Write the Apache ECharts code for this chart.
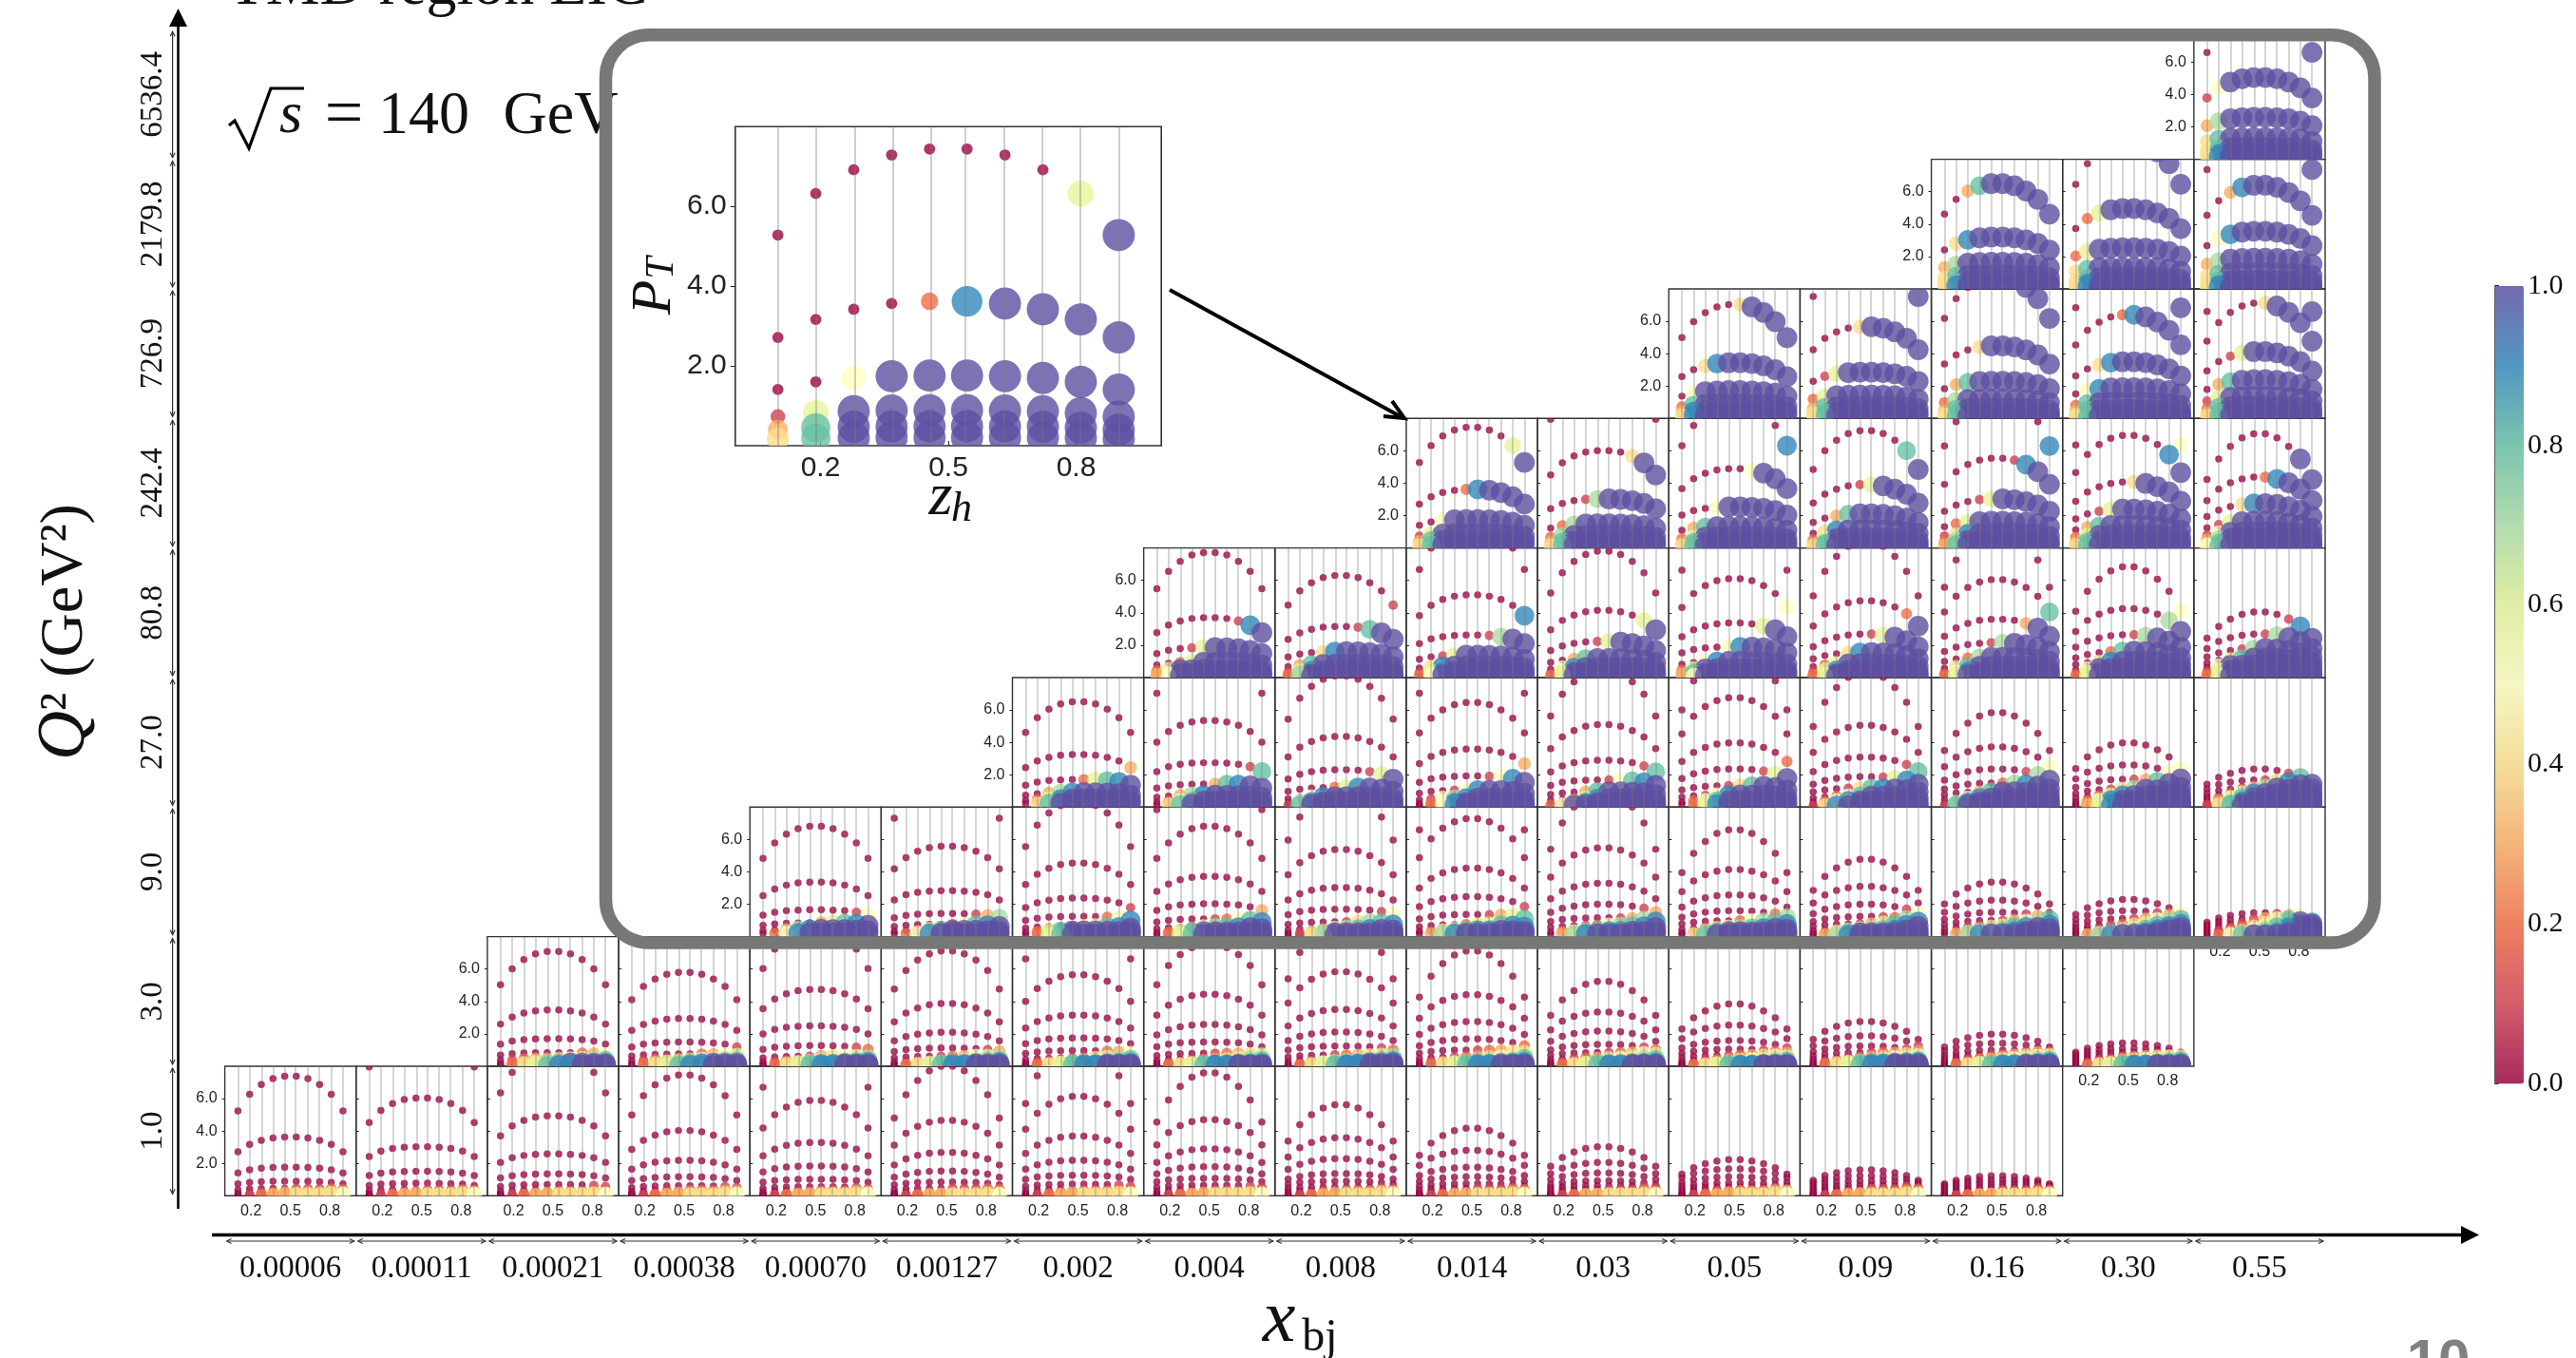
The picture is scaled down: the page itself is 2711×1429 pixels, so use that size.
<!DOCTYPE html>
<html><head><meta charset="utf-8">
<style>html,body{margin:0;padding:0;background:#fff;overflow:hidden}#c{width:2711px;height:1429px}</style>
<script src="https://cdn.jsdelivr.net/npm/echarts@6/dist/echarts.min.js"></script>
</head><body><div id="c"></div>
<script>
// Values. Each panel: [column, arc-shape row, arc apex PT values, fraction per zh column for each arc].
// Fractions are written one digit per zh column: 0..9 = 0.0..0.9, a = 1.0.
const X_LABELS=['0.00006','0.00011','0.00021','0.00038','0.00070','0.00127','0.002','0.004','0.008','0.014','0.03','0.05','0.09','0.16','0.30','0.55'];
const Q2_LABELS=['1.0','3.0','9.0','27.0','80.8','242.4','726.9','2179.8','6536.4'];
const ZH=[0.1,0.189,0.278,0.367,0.456,0.544,0.633,0.722,0.811,0.9];
// PT at each zh column relative to the arc apex, read from the arcs (left half, the arcs are symmetric).
const ARC_SHAPES=[[.60,.78,.89,.965,1],[.67,.83,.92,.975,1],[.71,.85,.93,.98,1],[.75,.875,.945,.985,1],[.80,.91,.965,.99,1],[.82,.92,.97,.99,1]];
const Z='0000000000',H='0000000011',M='0000011122',L='0001122233',V='0012333344',W='0123344445';
// Densely packed lowest arcs of the two bottom rows: [apex PT, fractions]. They pile up into the dark foot of each column.
const LOW_ARCS_ROW_0=[[.09,W],[.05,W]];
const LOW_ARCS_ROW_1=[[.07,'0246899aaa']];
const ROW_0=[
[0,2,[7.38,3.62,1.76,.9,.46,.2],[Z,Z,Z,Z,M,V]],
[1,2,[11.2,6.03,3.03,1.52,.78,.4,.18],[Z,Z,Z,Z,Z,M,V]],
[2,2,[8.96,4.93,2.58,1.35,.7,.36,.17],[Z,Z,Z,Z,H,M,V]],
[3,1,[7.45,4.03,2.19,1.17,.62,.33,.16],[Z,Z,Z,Z,H,L,V]],
[4,1,[10,5.89,3.29,1.84,1.02,.56,.3,.14],[Z,Z,Z,Z,Z,H,L,V]],
[5,0,[8,4.66,2.68,1.53,.85,.47,.25,.12],[Z,Z,Z,Z,Z,M,L,V]],
[6,0,[9.5,6.14,3.68,2.19,1.27,.72,.4,.2],[Z,Z,Z,Z,Z,H,M,V]],
[7,0,[7.59,4.7,2.9,1.8,1.08,.65,.37,.18],[Z,Z,Z,Z,Z,H,M,V]],
[8,0,[5.62,3.58,2.29,1.37,.9,.55,.32,.16],[Z,Z,Z,Z,Z,H,L,V]],
[9,0,[4.17,2.8,1.76,1.17,.75,.46,.26,.13],[Z,Z,Z,Z,Z,M,L,V]],
[10,0,[3.03,2.05,1.41,.93,.62,.4,.22,.11],[Z,Z,Z,Z,H,M,L,V]],
[11,0,[2.23,1.66,1.17,.8,.55,.34,.18,.09],[Z,Z,Z,Z,H,L,V,W]],
[12,0,[1.6,1.23,.93,.66,.45,.28,.14,.07],[Z,Z,Z,H,M,L,V,W]],
[13,0,[1.23,.98,.76,.56,.38,.23,.12,.06],[Z,Z,Z,H,M,L,V,W]]];
const ROW_1=[
[2,2,[7.08,3.47,1.7,.84,.45,.2],[Z,Z,Z,'0000000235','0123345678','024678aaaa']],
[3,2,[5.79,2.95,1.49,.76,.42,.2],[Z,Z,'0000000001','0000002356','0122345678','0246789aaa']],
[4,2,[8.5,4.74,2.49,1.27,.62,.33,.15],[Z,Z,Z,'0000000012','0000134567','0123456789','0246899aaa']],
[5,1,[7.12,3.87,2.09,1.13,.62,.33,.15],[Z,Z,Z,'0000000013','0000123567','0012345789','0246899aaa']],
[6,1,[9.9,5.64,3.15,1.74,.96,.52,.28,.14],[Z,Z,Z,Z,'0000000235','0000124678','0123456789','0246899aaa']],
[7,1,[7.5,4.44,2.58,1.5,.8,.45,.24,.12],[Z,Z,Z,Z,'0000012346','0001234678','0123456789','0246899aaa']],
[8,0,[9,5.83,3.5,2.11,1.25,.7,.38,.2,.1],[Z,Z,Z,Z,'0000000012','0000123467','0012345789','0135789aaa','0246899aaa']],
[9,0,[7.12,4.42,2.76,1.68,1,.58,.32,.16],[Z,Z,Z,'0000000002','0000012346','0001234568','0123456789','0246899aaa']],
[10,0,[5.24,3.35,2.17,1.35,.85,.5,.28,.14],[Z,Z,Z,'0000000012','0000012356','0012345678','0123456789','0246899aaa']],
[11,0,[3.84,2.54,1.59,1.05,.68,.4,.22,.11],[Z,Z,'0000000001','0000000123','0000123456','0012345678','0123456789','0246899aaa']],
[12,0,[2.76,1.88,1.25,.85,.55,.33,.18,.09],[Z,'0000000001','0000000013','0000012345','0001234567','0123456789','0246899aaa','0246899aaa']],
[13,0,[1.98,1.42,1,.7,.47,.28,.14],[Z,'0000000001','0000000134','0000123456','0012345678','0123456789','0246899aaa']],
[14,0,[1.43,1.1,.85,.62,.42,.25,.12],[Z,'0000000001','0000000124','0000123456','0012345678','0123456789','0246899aaa']]];
const ROW_2=[
[4,2,[6.81,3.37,1.66,.86,.45,.22],[Z,Z,'0000000015','000003689a','00379aaaaa','0259aaaaaa']],
[5,2,[10.3,5.58,2.84,1.43,.76,.4,.2],[Z,Z,Z,'0000000137','000002589a','00268aaaaa','0259aaaaaa']],
[6,1,[8.3,4.54,2.39,1.25,.65,.35,.15],[Z,Z,'0000000001','0000000259','000014689a','0268aaaaaa','0268aaaaaa']],
[7,1,[11.7,6.81,3.72,2.03,1.1,.6,.3,.15],[Z,Z,Z,'0000000003','0000012589','00025789aa','0268aaaaaa','0268aaaaaa']],
[8,1,[8.9,5.38,3.03,1.7,.92,.5,.25,.12],[Z,Z,Z,'0000000015','0000014789','00025789aa','0147aaaaaa','0147aaaaaa']],
[9,0,[11,7.28,4.23,2.47,1.37,.75,.4,.2],[Z,Z,Z,'0000000001','0000001368','0000246899','0146899aaa','0379aaaaaa']],
[10,0,[9,5.48,3.3,2,1.17,.7,.35,.18],[Z,Z,Z,'0000000013','0000001379','000125789a','0247899aaa','0379aaaaaa']],
[11,0,[6.6,4.15,2.58,1.6,.98,.55,.3,.15],[Z,Z,Z,'0000000027','0000025789','00246789aa','0258aaaaaa','048aaaaaaa']],
[12,0,[4.77,3.1,2,1.25,.8,.45,.25,.12],[Z,Z,'0000000015','0000001279','000013689a','00246789aa','0258aaaaaa','0379aaaaaa']],
[13,0,[3.37,2.25,1.5,1,.62,.35,.18],[Z,Z,'0000000138','0000013579','00124689aa','0135789aaa','0379aaaaaa']],
[14,0,[2.29,1.6,1.12,.75,.48,.28,.14],['0000000005','0000000138','0000013579','000124689a','00124689aa','0135789aaa','0379aaaaaa']],
[15,0,[1.47,1.12,.85,.62,.42,.25,.12],['0000001369','00001358aa','00012468aa','00124689aa','01235789aa','0135789aaa','0258aaaaaa']]];
const ROW_3=[
[6,2,[6.5,3.25,1.7,.9,.5,.25],[Z,'0000000003','000002689a','00379aaaaa','0269aaaaaa','048aaaaaaa']],
[7,2,[9.9,5.34,2.74,1.43,.74,.38,.18],[Z,Z,'0000000018','00000389aa','00379aaaaa','0258aaaaaa','048aaaaaaa']],
[8,1,[8.1,4.36,2.31,1.22,.64,.33,.16],[Z,Z,'000000016a','0000269aaa','0059aaaaaa','059aaaaaaa','18aaaaaaaa']],
[9,1,[10.5,6.46,3.58,1.92,1.05,.55,.28,.14],[Z,Z,'0000000003','000000159a','000159aaaa','01579aaaaa','0259aaaaaa','0259aaaaaa']],
[10,1,[8.4,5.09,2.9,1.68,.95,.52,.27,.13],[Z,Z,'0000000018','000001589a','00038aaaaa','00269aaaaa','0269aaaaaa','25aaaaaaaa']],
[11,0,[10,6.75,3.97,2.35,1.33,.75,.4,.2],[Z,Z,'0000000002','000000016a','0000148aaa','00159aaaaa','0258aaaaaa','0269aaaaaa']],
[12,0,[8.3,5.05,3.09,1.88,1.17,.68,.38,.2,.1],[Z,Z,'0000000018','000000169a','0001489aaa','00258aaaaa','0259aaaaaa','0358aaaaaa','149aaaaaaa']],
[13,0,[5.83,3.72,2.35,1.49,.95,.56,.3,.15],[Z,'0000000005','000000017a','00000279aa','00038aaaaa','0059aaaaaa','059aaaaaaa','18aaaaaaaa']],
[14,0,[3.97,2.6,1.72,1.13,.72,.42,.22,.11],['0000000005','000000005a','00000138aa','000147aaaa','00269aaaaa','0259aaaaaa','0369aaaaaa','0369aaaaaa']],
[15,0,[2.35,1.68,1.2,.85,.58,.36,.2,.1],['000000018a','00000149aa','000137aaaa','00269aaaaa','0258aaaaaa','0369aaaaaa','148aaaaaaa','148aaaaaaa']]];
const ROW_4=[
[7,2,[7.72,3.7,1.85,.95,.5,.25,.12],[Z,'000000019a','00016aaaaa','0026aaaaaa','26aaaaaaaa','35aaaaaaaa','35aaaaaaaa']],
[8,2,[6.3,3.15,1.6,.82,.43,.22,.11],['0000000001','00000018aa','00049aaaaa','038aaaaaaa','169aaaaaaa','27aaaaaaaa','27aaaaaaaa']],
[9,2,[9.4,5.1,2.62,1.38,.72,.37,.19],[Z,'0000000009','00000017aa','0016aaaaaa','049aaaaaaa','169aaaaaaa','25aaaaaaaa']],
[10,1,[7.8,4.15,2.23,1.18,.62,.32,.16],[Z,'000000006a','000016aaaa','0038aaaaaa','059aaaaaaa','16aaaaaaaa','26aaaaaaaa']],
[11,1,[9.9,6.1,3.37,1.9,1,.55,.28,.14],[Z,'0000000005','00000006aa','000059aaaa','0059aaaaaa','26aaaaaaaa','38aaaaaaaa','35aaaaaaaa']],
[12,0,[8.4,4.74,2.68,1.55,.85,.46,.23,.12],[Z,'000000002a','0000016aaa','00049aaaaa','026aaaaaaa','169aaaaaaa','26aaaaaaaa','26aaaaaaaa']],
[13,0,[9.3,6.05,3.6,2.15,1.25,.7,.36,.18],[Z,'0000000008','00000003aa','000017aaaa','0027aaaaaa','048aaaaaaa','159aaaaaaa','26aaaaaaaa']],
[14,0,[6.83,4.25,2.64,1.63,1,.58,.3,.15],['0000000005','000000007a','0000017aaa','00028aaaaa','0049aaaaaa','05aaaaaaaa','16aaaaaaaa','26aaaaaaaa']],
[15,0,[4.05,2.68,1.8,1.2,.78,.46,.24,.12],['000000019a','0000017aaa','00017aaaaa','0048aaaaaa','05aaaaaaaa','16aaaaaaaa','26aaaaaaaa','26aaaaaaaa']]];
const ROW_5=[
[9,2,[7.44,3.62,1.76,.89,.49,.21],['000000006a','000029aaaa','005aaaaaaa','16aaaaaaaa','38aaaaaaaa','48aaaaaaaa']],
[10,2,[11.2,6.01,3.03,1.5,.8,.42,.2],[Z,'00000004aa','00017aaaaa','027aaaaaaa','27aaaaaaaa','38aaaaaaaa','48aaaaaaaa']],
[11,2,[8.9,4.89,2.54,1.33,.7,.37,.18],['0000000009','0000005aaa','0005aaaaaa','038aaaaaaa','26aaaaaaaa','38aaaaaaaa','48aaaaaaaa']],
[12,1,[7.24,3.91,2.11,1.13,.6,.32,.16],['000000008a','000016aaaa','0038aaaaaa','049aaaaaaa','26aaaaaaaa','38aaaaaaaa','48aaaaaaaa']],
[13,1,[9.4,5.54,3.03,1.65,.9,.48,.24],['0000000009','00000019aa','00016aaaaa','026aaaaaaa','149aaaaaaa','27aaaaaaaa','38aaaaaaaa']],
[14,0,[10.6,6.95,4.07,2.4,1.4,.8,.42,.2],['0000000005','000000009a','000004aaaa','0016aaaaaa','038aaaaaaa','26aaaaaaaa','38aaaaaaaa','48aaaaaaaa']],
[15,0,[7.05,4.38,2.75,1.65,1,.6,.32,.16],['00000000aa','0000029aaa','00049aaaaa','016aaaaaaa','15aaaaaaaa','37aaaaaaaa','48aaaaaaaa','58aaaaaaaa']]];
const ROW_6=[
[11,2,[7.03,3.44,1.72,.89,.48,.22],['000004aaaa','0049aaaaaa','05aaaaaaaa','28aaaaaaaa','39aaaaaaaa','49aaaaaaaa']],
[12,2,[10.6,5.66,2.86,1.45,.75,.4,.2],['000000000a','00004aaaaa','016aaaaaaa','26aaaaaaaa','38aaaaaaaa','48aaaaaaaa','48aaaaaaaa']],
[13,2,[8.7,4.48,2.3,1.2,.62,.32,.16],['0000005aaa','0004aaaaaa','038aaaaaaa','27aaaaaaaa','38aaaaaaaa','48aaaaaaaa','48aaaaaaaa']],
[14,1,[10.2,6.4,3.5,1.9,1,.55,.28,.14],['000000000a','000029aaaa','0049aaaaaa','059aaaaaaa','28aaaaaaaa','38aaaaaaaa','48aaaaaaaa','48aaaaaaaa']],
[15,0,[11,7.12,4.13,2.4,1.35,.75,.4,.2],['000000000a','000004aaaa','0016aaaaaa','038aaaaaaa','16aaaaaaaa','28aaaaaaaa','38aaaaaaaa','48aaaaaaaa']]];
const ROW_7=[
[13,2,[6.5,3.2,1.65,.85,.45,.22],['0038aaaaaa','049aaaaaaa','37aaaaaaaa','48aaaaaaaa','48aaaaaaaa','49aaaaaaaa']],
[14,2,[9.1,4.96,2.54,1.33,.7,.35,.17],['0000000aaa','026aaaaaaa','26aaaaaaaa','48aaaaaaaa','48aaaaaaaa','49aaaaaaaa','49aaaaaaaa']],
[15,1,[11,6.4,3.56,1.9,1,.52,.26,.13],['000000000a','0039aaaaaa','059aaaaaaa','37aaaaaaaa','48aaaaaaaa','48aaaaaaaa','49aaaaaaaa','49aaaaaaaa']]];
const ROW_8=[
[15,2,[9.3,5.05,2.6,1.35,.72,.36,.18],['000000000a','15aaaaaaaa','37aaaaaaaa','48aaaaaaaa','48aaaaaaaa','49aaaaaaaa','49aaaaaaaa']]];
const ROWS=[ROW_0,ROW_1,ROW_2,ROW_3,ROW_4,ROW_5,ROW_6,ROW_7,ROW_8];
const LOW_ARCS=[LOW_ARCS_ROW_0,LOW_ARCS_ROW_1];
const CBAR_COLORS=['#9e0142','#d53e4f','#f46d43','#fdae61','#fee08b','#ffffbf','#e6f598','#abdda4','#66c2a5','#3288bd','#5e4fa2'];

const rgba=h=>`rgba(${parseInt(h.slice(1,3),16)},${parseInt(h.slice(3,5),16)},${parseInt(h.slice(5,7),16)},0.8)`;
const points=(p,r)=>{const out=[];
  const apexes=p[2].slice(),fr=p[3].slice();
  (LOW_ARCS[r]||[]).forEach(a=>{if(a[0]<apexes[apexes.length-1]){apexes.push(a[0]);fr.push(a[1]);}});
  apexes.forEach((apex,k)=>{const sh=ARC_SHAPES[Math.min(p[1]+k,ARC_SHAPES.length-1)];
  ZH.forEach((z,i)=>{const ch=fr[k][i];out.push([z,apex*sh[Math.min(i,9-i)],ch==='a'?1:(+ch)/10]);});});return out;};

const X0=236.6,CW=138.15,YB=1258.3,RH=136.33;
const SERIF='Liberation Serif',SANS='Liberation Sans';
const grids=[],xAxes=[],yAxes=[],series=[];
function addPanel(p,r,box,o){
  const gi=grids.length;
  grids.push(Object.assign({show:true,borderColor:'#333',borderWidth:o.bw,backgroundColor:'transparent',containLabel:false},box));
  xAxes.push({type:'value',gridIndex:gi,min:0,max:1,splitLine:{show:false},axisLine:{show:false},
    axisTick:{show:true,inside:true,length:o.tick,customValues:[.2,.5,.8],lineStyle:{color:'#222',width:1}},
    axisLabel:{show:o.xl,customValues:[.2,.5,.8],formatter:v=>v.toFixed(1),fontFamily:SANS,fontSize:o.fs,color:'#222',margin:o.m}});
  yAxes.push({type:'value',gridIndex:gi,min:0,max:8,splitLine:{show:false},axisLine:{show:false},
    axisTick:{show:true,inside:!o.yl,length:o.tick,customValues:[2,4,6],lineStyle:{color:'#222',width:1}},
    axisLabel:{show:o.yl,customValues:[2,4,6],formatter:v=>v.toFixed(1),fontFamily:SANS,fontSize:o.fs,color:'#222',margin:o.m}});
  series.push({type:'custom',coordinateSystem:'cartesian2d',xAxisIndex:gi,yAxisIndex:gi,data:points(p,r),clip:true,animation:false,silent:true,progressive:0,
    encode:{x:0,y:1},
    renderItem:(params,api)=>{const c=api.coord([api.value(0),api.value(1)]);
      return {type:'circle',shape:{cx:c[0],cy:c[1],r:Math.sqrt(o.s0+o.s1*api.value(2))/2},style:{fill:api.visual('color')}};},
    markLine:{silent:true,animation:false,symbol:['none','none'],label:{show:false},
      lineStyle:{type:'solid',color:'rgba(120,120,120,0.36)',width:o.lw},data:ZH.map(z=>({xAxis:z}))}});
}
ROWS.forEach((row,r)=>row.forEach((p,idx)=>{
  const c=p[0];
  const below=r===0||!ROWS[r-1].some(q=>q[0]===c);
  addPanel(p,r,{left:X0+CW*c,top:YB-RH*(r+1),width:CW,height:RH},
    {bw:1.4,tick:3,xl:below,yl:idx===0,fs:16,m:8,s0:56,s1:420,lw:1.7});
}));
// the enlarged panel repeats the 0.014 / 242.4 panel
addPanel(ROW_5[0],5,{left:773.8,top:133.3,width:448.4,height:335.7},{bw:1.6,tick:5,xl:true,yl:true,fs:30,m:9,s0:140,s1:1010,lw:2});
const scatterIdx=series.map((_,i)=>i);

// colour-bar axis
const cb=grids.length;
grids.push({left:2626,top:300.7,width:30,height:839.8,show:false});
xAxes.push({type:'value',gridIndex:cb,min:0,max:1,show:false});
yAxes.push({type:'value',gridIndex:cb,position:'right',min:0,max:1,interval:.2,splitLine:{show:false},
  axisLine:{show:true,lineStyle:{color:'#222',width:1.5}},axisTick:{show:true,length:4,lineStyle:{color:'#222'}},
  axisLabel:{fontFamily:SERIF,fontSize:30,color:'#111',margin:4,formatter:v=>v.toFixed(1)}});

// graphics
const G=[];
const txt=(t,x,y,fs,extra)=>G.push(Object.assign({type:'text',x,y,z:50,silent:true,style:Object.assign({text:t,fontFamily:SERIF,fontSize:fs,fill:'#111',textAlign:'center',textVerticalAlign:'middle'},extra&&extra.style||{})},extra&&extra.el||{}));
const seg=(x1,y1,x2,y2,w,col)=>G.push({type:'line',z:50,silent:true,shape:{x1,y1,x2,y2},style:{stroke:col||'#000',lineWidth:w}});
const poly=(pts,col)=>G.push({type:'polygon',z:50,silent:true,shape:{points:pts},style:{fill:col||'#000'}});
const pl=(pts,w,col)=>G.push({type:'polyline',z:50,silent:true,shape:{points:pts},style:{stroke:col||'#000',lineWidth:w,fill:'none'}});
// main axes
seg(187.5,24,187.5,1272,2.6); poly([[187.5,9],[178,28],[197,28]]);
seg(223,1299.5,2592,1299.5,3.4); poly([[2609,1299.5],[2590,1290],[2590,1309]]);
// per-bin double arrows and labels
X_LABELS.forEach((t,c)=>{const a=X0+CW*c+2,b=X0+CW*(c+1)-2,y=1306;seg(a,y,b,y,1.2,'#333');
  pl([[a+5,y-2.5],[a,y],[a+5,y+2.5]],1.2,'#333');pl([[b-5,y-2.5],[b,y],[b-5,y+2.5]],1.2,'#333');
  txt(t,X0+CW*(c+.5),1335,33);});
Q2_LABELS.forEach((t,r)=>{const b=YB-RH*r-2,a=YB-RH*(r+1)+2,x=181.6;seg(x,a,x,b,1.2,'#333');
  pl([[x-2.5,a+5],[x,a],[x+2.5,a+5]],1.2,'#333');pl([[x-2.5,b-5],[x,b],[x+2.5,b-5]],1.2,'#333');
  txt(t,161,(a+b)/2,33,{el:{rotation:Math.PI/2}});});
// titles
G.push({type:'text',x:69,y:665,z:50,rotation:Math.PI/2,silent:true,style:{text:'{i|Q}² (GeV²)',rich:{i:{fontFamily:SERIF,fontStyle:'italic',fontSize:72,fill:'#111'}},fontFamily:SERIF,fontSize:64,fill:'#111',textAlign:'center',textVerticalAlign:'middle'}});
txt('x',1346,1390,78,{style:{fontStyle:'italic'}});
txt('bj',1389,1408,48);
txt('TMD region EIC',461,-13,64);
// sqrt(s) = 140 GeV
pl([[241,132],[247,127],[262,156],[285,93],[320,93]],3.2);
txt('s',306,123,62,{style:{fontStyle:'italic'}});
txt('=',362,123,72);
txt('140',446,123,64);
txt('GeV',590,123,64);
// enlarged-panel labels
txt('P',689,313,60,{style:{fontStyle:'italic'},el:{rotation:Math.PI/2}});
txt('T',697,282,42,{style:{fontStyle:'italic'},el:{rotation:Math.PI/2}});
txt('z',990,524,64,{style:{fontStyle:'italic'}});
txt('h',1012,536,44,{style:{fontStyle:'italic'}});
// arrow to the enlarged panel's source
seg(1231,305,1477,440,4);
pl([[1456,438],[1478,440],[1465,422]],4);
// rounded highlight box
G.push({type:'rect',z:60,silent:true,shape:{x:637.5,y:36.7,width:1861.5,height:955.3,r:45},style:{fill:'none',stroke:'#767876',lineWidth:13.5}});
// page number
G.push({type:'text',x:2566,y:1434,z:50,silent:true,style:{text:'10',fontFamily:SANS,fontWeight:'bold',fontSize:60,fill:'#808080',textAlign:'center',textVerticalAlign:'middle'}});

const chart=echarts.init(document.getElementById('c'),null,{renderer:'canvas'});
chart.setOption({
  animation:false,backgroundColor:'#fff',
  grid:grids,xAxis:xAxes,yAxis:yAxes,series,
  visualMap:[{type:'continuous',show:true,min:0,max:1,dimension:2,seriesIndex:scatterIdx,calculable:false,hoverLink:false,
    left:2626,top:300.7,itemWidth:30,itemHeight:839.8,padding:0,text:null,showLabel:false,
    inRange:{color:CBAR_COLORS.map(rgba)},textStyle:{color:'transparent',fontSize:1}}],
  graphic:G
});
</script></body></html>
